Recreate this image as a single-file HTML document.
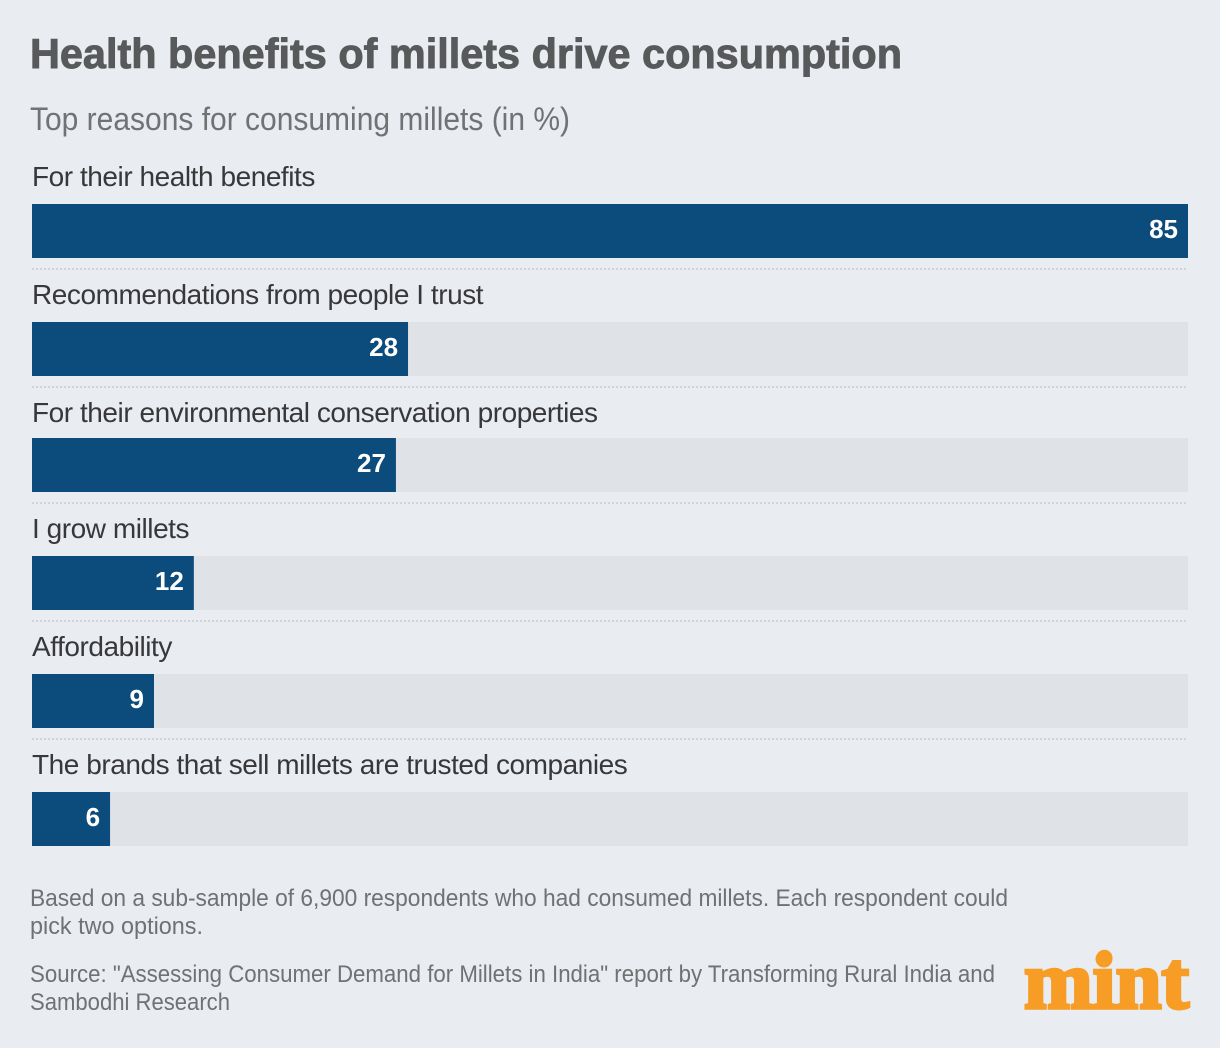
<!DOCTYPE html>
<html lang="en">
<head>
<meta charset="utf-8">
<title>Health benefits of millets drive consumption</title>
<style>
  html, body { margin: 0; padding: 0; background: #e9ecf1; }
  svg { display: block; font-family: "Liberation Sans", sans-serif; }
</style>
</head>
<body>
<svg id="chart" width="1220" height="1048" viewBox="0 0 1220 1048" xmlns="http://www.w3.org/2000/svg">
  <rect x="0" y="0" width="1220" height="1048" fill="#e9ecf1"/>
  <text x="30" y="68" font-size="42" font-weight="700" fill="#58595b" stroke="#58595b" stroke-width="0.9" textLength="872" lengthAdjust="spacingAndGlyphs">Health benefits of millets drive consumption</text>
  <text x="30" y="130" font-size="32" fill="#707274" textLength="540" lengthAdjust="spacingAndGlyphs">Top reasons for consuming millets (in %)</text>
  <g id="rows"></g>
  <text x="30" y="906" font-size="24" fill="#6f7173" textLength="978" lengthAdjust="spacingAndGlyphs">Based on a sub-sample of 6,900 respondents who had consumed millets. Each respondent could</text>
  <text x="30" y="934" font-size="24" fill="#6f7173" textLength="173" lengthAdjust="spacingAndGlyphs">pick two options.</text>
  <text x="30" y="982" font-size="24" fill="#6f7173" textLength="965" lengthAdjust="spacingAndGlyphs">Source: "Assessing Consumer Demand for Millets in India" report by Transforming Rural India and</text>
  <text x="30" y="1010" font-size="24" fill="#6f7173" textLength="200" lengthAdjust="spacingAndGlyphs">Sambodhi Research</text>
  <g>
    <text x="1024" y="1008" font-family="'Liberation Serif', serif" font-size="82" font-weight="700" fill="#f79c25" stroke="#f79c25" stroke-width="3.5" textLength="165" lengthAdjust="spacingAndGlyphs">mint</text>
    <circle cx="1104" cy="959" r="8.5" fill="#f79c25"/>
  </g>
</svg>
<script>
const categories = [
  "For their health benefits",
  "Recommendations from people I trust",
  "For their environmental conservation properties",
  "I grow millets",
  "Affordability",
  "The brands that sell millets are trusted companies"
];
const values = [85, 27.65, 26.76, 11.9, 8.97, 5.74];
const valueLabels = ["85", "28", "27", "12", "9", "6"];

const SVG_NS = "http://www.w3.org/2000/svg";
const plotLeft = 32;
const plotRight = 1188;
const barHeight = 54;
const domainMax = 85;

function xScale(v) {
  return plotLeft + (v / domainMax) * (plotRight - plotLeft);
}
function rowTop(i) {
  return 204 + i * 118 - (i >= 2 ? 2 : 0);
}
function labelBaseline(i) {
  return 186 + i * 118 - (i >= 3 ? 2 : 0);
}
function make(tag, attrs) {
  const el = document.createElementNS(SVG_NS, tag);
  Object.keys(attrs).forEach(function (k) { el.setAttribute(k, attrs[k]); });
  return el;
}

const rows = document.getElementById("rows");
categories.forEach(function (name, i) {
  const top = rowTop(i);

  const label = make("text", { x: plotLeft, y: labelBaseline(i), "font-size": 28, fill: "#38383a", "letter-spacing": "-0.45" });
  
  
  label.textContent = name;
  rows.appendChild(label);

  const track = make("rect", { x: plotLeft, y: top, width: plotRight - plotLeft, height: barHeight, fill: "#dfe2e6" });
  
  
  rows.appendChild(track);

  const bar = make("rect", { x: plotLeft, y: top, width: xScale(values[i]) - plotLeft, height: barHeight, fill: "#0b4c7c" });
  
  
  rows.appendChild(bar);

  const valueText = make("text", { x: xScale(values[i]) - 10, y: top + 34, "font-size": 26, "font-weight": 700, fill: "#ffffff", "text-anchor": "end" });
  
  
  valueText.textContent = valueLabels[i];
  rows.appendChild(valueText);

  if (i < categories.length - 1) {
    const divider = make("line", { x1: plotLeft, x2: plotRight, y1: top + 65, y2: top + 65, stroke: "#d0d3d7", "stroke-width": 2, "stroke-dasharray": "2 2" });
    
    
    rows.appendChild(divider);
  }
});
</script>
</body>
</html>
